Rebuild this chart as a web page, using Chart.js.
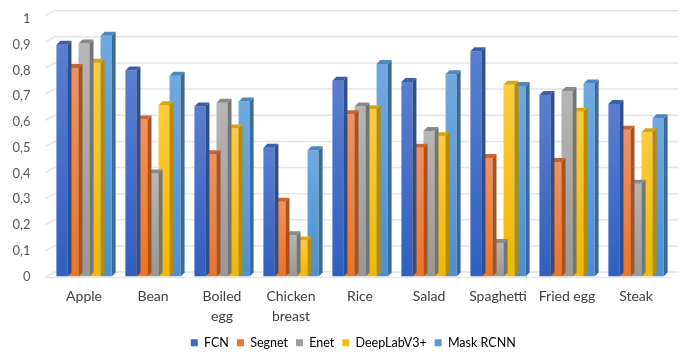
<!DOCTYPE html>
<html>
<head>
<meta charset="utf-8">
<script src="https://cdn.jsdelivr.net/npm/chart.js@4/dist/chart.umd.min.js"></script>
<style>
  html, body { margin: 0; padding: 0; background: #ffffff; }
  #wrap { width: 698px; height: 360px; }
</style>
</head>
<body>
<div id="wrap"><canvas id="chart" width="698" height="360"></canvas></div>
<script>
const categories = [
  "Apple", "Bean", ["Boiled", "egg"], ["Chicken", "breast"], "Rice",
  "Salad", "Spaghetti", "Fried egg", "Steak"
];

const fcn = [0.90, 0.80, 0.66, 0.50, 0.76, 0.755, 0.875, 0.705, 0.67];
const segnet = [0.81, 0.61, 0.475, 0.29, 0.63, 0.50, 0.46, 0.445, 0.57];
const enet = [0.905, 0.40, 0.675, 0.16, 0.66, 0.565, 0.13, 0.72, 0.36];
const deeplab = [0.83, 0.665, 0.575, 0.14, 0.65, 0.545, 0.745, 0.64, 0.56];
const maskRcnn = [0.935, 0.78, 0.68, 0.49, 0.825, 0.785, 0.74, 0.75, 0.615];

const yTicks = [0, 0.1, 0.2, 0.3, 0.4, 0.5, 0.6, 0.7, 0.8, 0.9, 1];

// front top / front bottom / side / top face colours per series
const palette = [
  { top: "#5a7ed0", bottom: "#2f60c0", side: "#2d4f8e", cap: "#3b5ea6", legend: "#3a66c4" },
  { top: "#f3915f", bottom: "#ee741f", side: "#a9521b", cap: "#c8652c", legend: "#ee7427" },
  { top: "#b6b6b6", bottom: "#979797", side: "#747474", cap: "#8a8a8a", legend: "#a0a0a0" },
  { top: "#ffca3e", bottom: "#f0b800", side: "#b88c00", cap: "#d9a514", legend: "#f8c000" },
  { top: "#70a9e0", bottom: "#4990d4", side: "#3b6a98", cap: "#4f86bf", legend: "#5b9bd5" }
];

const fmt = (v) => (Math.abs(v - Math.round(v)) < 1e-9 ? String(Math.round(v)) : v.toFixed(1).replace(".", ","));

const DX = 4;
const DY = 4;
const LEGEND_SHIFT = 18;

function barFill(index) {
  return (ctx) => {
    const chart = ctx.chart;
    const c = palette[index];
    if (!chart.chartArea || ctx.type !== "data") return c.legend;
    const y = chart.scales.y;
    const g = chart.ctx.createLinearGradient(0, y.getPixelForValue(ctx.raw), 0, y.getPixelForValue(0));
    g.addColorStop(0, c.top);
    g.addColorStop(1, c.bottom);
    return g;
  };
}

const faces3d = {
  id: "faces3d",
  afterLayout(chart) {
    // legend sits a little right of the plot centre in the original
    chart.legend.left += LEGEND_SHIFT;
    chart.legend.right += LEGEND_SHIFT;
  },
  beforeDatasetsDraw(chart) {
    const { ctx, chartArea, scales } = chart;
    ctx.save();
    ctx.strokeStyle = "#e2e4e8";
    ctx.lineWidth = 1.5;
    yTicks.forEach((v) => {
      const yf = scales.y.getPixelForValue(v);
      const yb = yf - (4.4 + 3.9 * v);
      ctx.beginPath();
      ctx.moveTo(chartArea.left - 4, yb + 5);
      ctx.lineTo(chartArea.left + 5, yb);
      ctx.lineTo(chartArea.right + 8, yb);
      ctx.stroke();
    });
    // floor front edge
    ctx.strokeStyle = "#e6e8ec";
    ctx.beginPath();
    ctx.moveTo(chartArea.left - 4, chartArea.bottom + 1);
    ctx.lineTo(chartArea.right, chartArea.bottom + 1);
    ctx.stroke();
    ctx.restore();
  },
  afterDatasetDraw(chart, args) {
    const { ctx } = chart;
    const c = palette[args.index];
    const meta = args.meta;
    ctx.save();
    meta.data.forEach((bar) => {
      const { x, y, base, width } = bar.getProps(["x", "y", "base", "width"], true);
      const l = x - width / 2;
      const r = x + width / 2;
      ctx.fillStyle = c.side;
      ctx.beginPath();
      ctx.moveTo(r, y);
      ctx.lineTo(r + DX, y - DY);
      ctx.lineTo(r + DX, base - DY);
      ctx.lineTo(r, base);
      ctx.closePath();
      ctx.fill();
      ctx.fillStyle = c.cap;
      ctx.beginPath();
      ctx.moveTo(l, y);
      ctx.lineTo(l + DX, y - DY);
      ctx.lineTo(r + DX, y - DY);
      ctx.lineTo(r, y);
      ctx.closePath();
      ctx.fill();
    });
    ctx.restore();
  }
};

const series = [
  ["FCN", fcn],
  ["Segnet", segnet],
  ["Enet", enet],
  ["DeepLabV3+", deeplab],
  ["Mask RCNN", maskRcnn]
];

new Chart(document.querySelector("#chart"), {
  type: "bar",
  data: {
    labels: categories,
    datasets: series.map(([label, values], i) => ({
      label,
      data: values,
      backgroundColor: barFill(i),
      borderWidth: 0,
      categoryPercentage: 0.8,
      barPercentage: 1.0
    }))
  },
  options: {
    responsive: false,
    animation: false,
    devicePixelRatio: 1,
    layout: { padding: { top: 19, right: 27.5, left: 0, bottom: 1 } },
    plugins: {
      tooltip: { enabled: false },
      legend: {
        position: "bottom",
        labels: {
          generateLabels: (chart) => chart.data.datasets.map((ds, i) => ({
            text: ds.label,
            fillStyle: palette[i].legend,
            strokeStyle: palette[i].legend,
            lineWidth: 0,
            datasetIndex: i
          })),
          boxWidth: 7,
          boxHeight: 7,
          padding: 8,
          color: "#595959",
          font: { family: "Lato", size: 12.5 }
        }
      }
    },
    scales: {
      x: {
        grid: { display: false },
        border: { display: false },
        ticks: {
          color: "#404040",
          padding: 2,
          maxRotation: 0,
          autoSkip: false,
          font: { family: "Lato", size: 14, lineHeight: 1.43 }
        },
        afterFit: (scale) => { scale.height = 52; }
      },
      y: {
        min: 0,
        max: 1,
        grid: { display: false },
        border: { display: false },
        afterBuildTicks: (scale) => { scale.ticks = yTicks.map((v) => ({ value: v })); },
        afterFit: (scale) => { scale.width = 49.5; },
        ticks: {
          color: "#595959",
          padding: 11,
          font: { family: "Lato", size: 13 },
          callback: (v) => fmt(v)
        }
      }
    }
  },
  plugins: [faces3d]
});
</script>
</body>
</html>
